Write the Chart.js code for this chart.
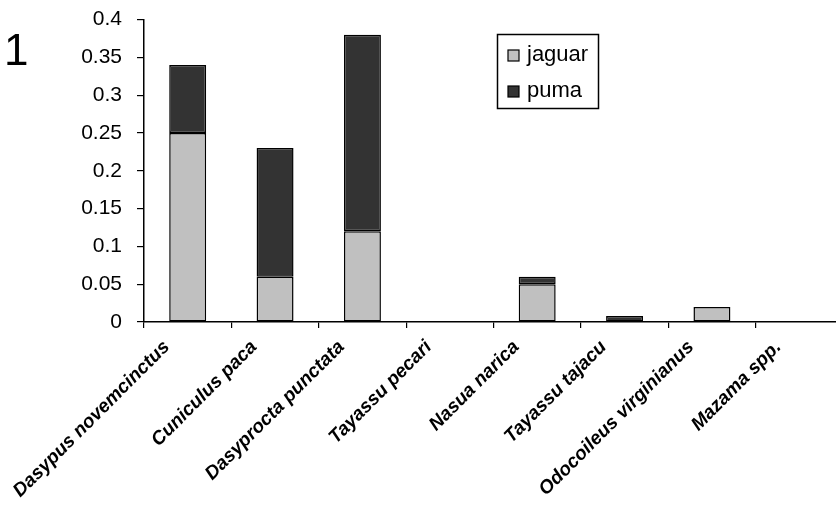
<!DOCTYPE html>
<html>
<head>
<meta charset="utf-8">
<script src="https://cdn.jsdelivr.net/npm/chart.js@4.4.1/dist/chart.umd.min.js"></script>
<style>
html,body{margin:0;padding:0;background:#fff;overflow:hidden;width:836px;height:512px;}
#wrap{position:absolute;left:0;top:0;width:850px;height:512px;}
</style>
</head>
<body>
<div id="wrap"><canvas id="c" width="850" height="512"></canvas></div>
<script>
const categories = ["Dasypus novemcinctus","Cuniculus paca","Dasyprocta punctata","Tayassu pecari","Nasua narica","Tayassu tajacu","Odocoileus virginianus","Mazama spp."];
const jaguar = [0.25, 0.06, 0.12, 0, 0.05, 0, 0.02, 0];
const puma   = [0.09, 0.17, 0.26, 0, 0.01, 0.008, 0, 0];
const seriesNames = ["jaguar","puma"];
const panelLabel = "1";

const FONT = "'Liberation Sans', Arial, sans-serif";

const legendPlugin = {
  id: 'boxLegend',
  afterDraw(chart) {
    const ctx = chart.ctx;
    ctx.save();
    ctx.strokeStyle = '#000';
    ctx.lineWidth = 1.5;
    ctx.strokeRect(497.5, 34.5, 101, 74);
    chart.data.datasets.forEach((ds, i) => {
      const y = 55 + i * 36;
      ctx.fillStyle = ds.backgroundColor;
      ctx.fillRect(508, y - 5, 11, 11);
      ctx.lineWidth = 1.2;
      ctx.strokeRect(508, y - 5, 11, 11);
      ctx.fillStyle = '#000';
      ctx.font = "22px " + FONT;
      ctx.textBaseline = 'middle';
      ctx.textAlign = 'left';
      ctx.fillText(ds.label, 527, y);
    });
    ctx.font = "44px " + FONT;
    ctx.textBaseline = 'alphabetic';
    ctx.fillText(panelLabel, 4, 65);
    ctx.restore();
  }
};

new Chart(document.getElementById('c'), {
  type: 'bar',
  data: {
    labels: categories,
    datasets: [
      {label: seriesNames[0], data: jaguar, backgroundColor: '#c0c0c0', borderColor: '#000', borderWidth: 1.5, borderSkipped: false},
      {label: seriesNames[1], data: puma, backgroundColor: '#333333', borderColor: '#000', borderWidth: 1.5, borderSkipped: false}
    ]
  },
  options: {
    responsive: false,
    animation: false,
    devicePixelRatio: 1,
    categoryPercentage: 1,
    barPercentage: 0.423,
    layout: {padding: {left: 0, top: 19.5, right: 7, bottom: 0}},
    plugins: {legend: {display: false}, tooltip: {enabled: false}},
    scales: {
      x: {
        stacked: true,
        offset: true,
        grid: {display: true, drawOnChartArea: false, drawTicks: true, tickLength: 6, color: '#000', lineWidth: 1.2, offset: true},
        border: {display: true, color: '#000', width: 1.5},
        ticks: {
          color: '#000', autoSkip: false, maxRotation: 45, minRotation: 45, padding: 8, labelOffset: -21,
          font: {family: FONT, size: 19, weight: 'bold', style: 'italic'}
        },
        afterFit(s) { s.height = 190; }
      },
      y: {
        stacked: true,
        min: 0, max: 0.4,
        grid: {display: true, drawOnChartArea: false, drawTicks: true, tickLength: 7, color: '#000', lineWidth: 1.2},
        border: {display: true, color: '#000', width: 1.5},
        ticks: {
          stepSize: 0.05, color: '#000', padding: 15,
          font: {family: FONT, size: 21},
          callback: v => String(Math.round(v * 100) / 100)
        },
        afterFit(s) { s.width = 144; s.paddingTop = 0; s.paddingBottom = 0; }
      }
    }
  },
  plugins: [legendPlugin]
});
</script>
</body>
</html>
